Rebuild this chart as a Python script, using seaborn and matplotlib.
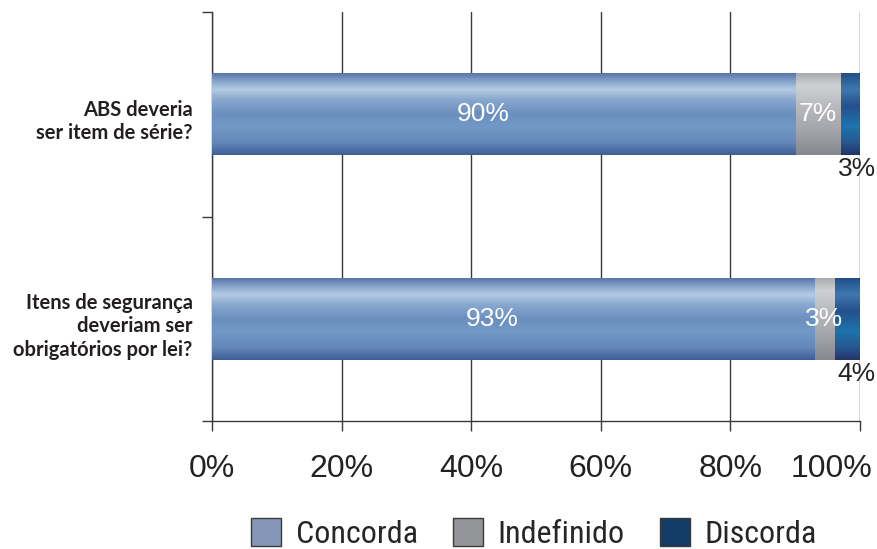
import numpy as np
import pandas as pd
import matplotlib
matplotlib.use("Agg")
import matplotlib.pyplot as plt
import matplotlib.transforms as mtransforms
import seaborn as sns
from matplotlib.colors import LinearSegmentedColormap
from matplotlib.patches import Patch

# ---- data ----
categories = ["ABS deveria\nser item de série?",
              "Itens de segurança\ndeveriam ser\nobrigatórios por lei?"]
series_names = ["Concorda", "Indefinido", "Discorda"]
concorda = [90, 93]
indefinido = [7, 3]
discorda = [3, 4]
x_ticks = [0, 20, 40, 60, 80, 100]
x_tick_labels = ["0%", "20%", "40%", "60%", "80%", "100%"]

sns.set_theme(style="white")
plt.rcParams["font.family"] = ["Liberation Sans", "DejaVu Sans"]

legend_colors = ["#8597b8", "#949598", "#133d66"]
gradients = [
    [(0, "#5877a8"), (0.08, "#7e9cc6"), (0.2, "#b4cbe2"), (0.32, "#8aa8cf"),
     (0.5, "#6a8fbf"), (0.65, "#7299c6"), (0.85, "#6487ba"), (1.0, "#3f5f95")],
    [(0, "#a9abb0"), (0.15, "#cfd1d4"), (0.4, "#b8babe"), (0.7, "#a3a5aa"),
     (1, "#85888e")],
    [(0, "#1f4f88"), (0.2, "#3f78b0"), (0.4, "#25508c"), (0.65, "#1d74ae"),
     (0.85, "#27578f"), (1, "#22346a")],
]

df = pd.DataFrame({"cat": categories, "Concorda": concorda,
                   "Indefinido": indefinido, "Discorda": discorda})
df["c1"] = df["Concorda"]
df["c2"] = df["Concorda"] + df["Indefinido"]
df["c3"] = df["c2"] + df["Discorda"]

fig = plt.figure(figsize=(8.77, 5.49), dpi=100)
ax = fig.add_axes([212 / 877, 1 - 421 / 549, 648 / 877, 409 / 549])

layers = [("c3", 2), ("c2", 1), ("c1", 0)]
layer_patches = {}
for i, (col, si) in enumerate(layers):
    n_before = len(ax.patches)
    sns.barplot(data=df, y="cat", x=col, orient="h", color=legend_colors[si],
                width=0.4, ax=ax, zorder=2 + i, linewidth=0, saturation=1)
    layer_patches[si] = ax.patches[n_before:]

ax.set_xlim(0, 100)
ax.set_ylim(1.5, -0.5)
xl, yl = ax.get_xlim(), ax.get_ylim()

# gradient fills
for i, (col, si) in enumerate(layers):
    cmap = LinearSegmentedColormap.from_list(f"g{si}", gradients[si])
    grad = cmap(np.linspace(0, 1, 200))[:, None, :]
    for p in layer_patches[si]:
        x0, y0, w, h = p.get_x(), p.get_y(), p.get_width(), p.get_height()
        im = ax.imshow(grad, extent=[x0, x0 + w, y0 + h, y0], aspect="auto",
                       origin="upper", zorder=2 + i + 0.05, interpolation="bilinear")
        im.set_clip_path(p)
ax.set_xlim(*xl)
ax.set_ylim(*yl)

# value labels
bar_fs = 19
for j in range(len(categories)):
    ax.text(concorda[j] * 0.465, j, f"{concorda[j]}%", color="white",
            ha="center", va="center", fontsize=bar_fs, zorder=10)
    ax.text(concorda[j] + indefinido[j] / 2, j, f"{indefinido[j]}%", color="white",
            ha="center", va="center", fontsize=bar_fs, zorder=10)
    ax.annotate(f"{discorda[j]}%", xy=(concorda[j] + indefinido[j] + discorda[j], j + 0.2),
                xytext=(16, -2), textcoords="offset pixels",
                color="#222222", ha="right", va="top", fontsize=bar_fs, zorder=10,
                annotation_clip=False)

# axes styling
ax.set_xlabel("")
ax.set_ylabel("")
ax.xaxis.grid(True, color="#3a3a3a", linewidth=1.0, zorder=0.5)
ax.yaxis.grid(False)
ax.set_axisbelow(True)
ax.tick_params(axis="x", bottom=True, length=7, width=1, color="#3a3a3a", pad=17)
ax.tick_params(axis="y", which="major", length=0, pad=14)
ax.set_xticks(x_ticks)
ax.set_xticklabels(x_tick_labels[:-1] + [""], fontsize=23, color="#222222")
# last tick label nudged inside the figure, as in the reference
ax.annotate(x_tick_labels[-1], xy=(x_ticks[-1], 0), xycoords=("data", "axes fraction"),
            xytext=(12, -33), textcoords="offset pixels", ha="right", va="top",
            fontsize=23, color="#222222", annotation_clip=False)

ax.set_yticks(range(len(categories)))
ax.set_yticklabels(categories, fontsize=14.5, fontweight="bold",
                   color="#231f20", family="Lato", linespacing=1.2)
down = mtransforms.ScaledTranslation(0, -4 / 100, fig.dpi_scale_trans)
for lab in ax.get_yticklabels():
    lab.set_transform(lab.get_transform() + down)
ax.set_yticks([-0.5, 0.5, 1.5], minor=True)
ax.tick_params(axis="y", which="minor", left=True, length=7, width=1, color="#3a3a3a")

for s in ["top", "right"]:
    ax.spines[s].set_visible(False)
for s in ["left", "bottom"]:
    ax.spines[s].set_color("#3a3a3a")
    ax.spines[s].set_linewidth(1.0)

handles = [Patch(facecolor=c, edgecolor="#3a3a3a", linewidth=1.0) for c in legend_colors]
fig.legend(handles, series_names, loc="upper center",
           bbox_to_anchor=(534 / 877, 1 - 518 / 549), ncol=3, frameon=False,
           prop={"family": "Roboto Condensed", "size": 23},
           handlelength=0.95, handleheight=0.95,
           handletextpad=0.45, columnspacing=1.1, borderpad=0, borderaxespad=0)

fig.savefig("out.png", dpi=100)
